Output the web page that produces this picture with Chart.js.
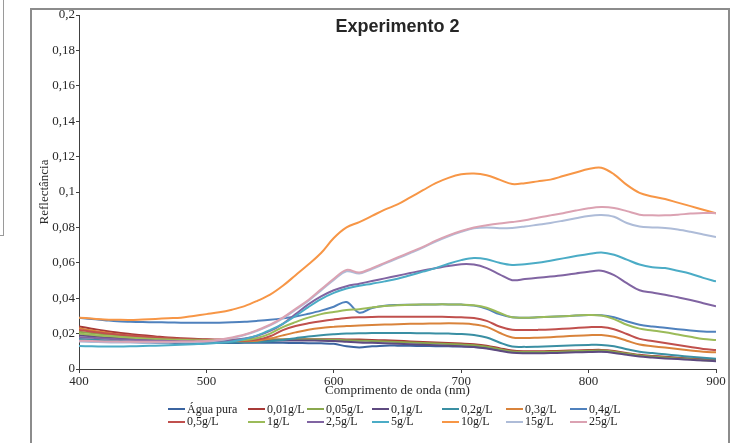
<!DOCTYPE html>
<html>
<head>
<meta charset="utf-8">
<script src="https://cdn.jsdelivr.net/npm/chart.js@4/dist/chart.umd.min.js"></script>
<style>
  html, body { margin: 0; padding: 0; background: #fff; }
  #wrap { position: relative; width: 731px; height: 443px; overflow: hidden; }
  #sidebox { position: absolute; left: -10px; top: -10px; width: 12px; height: 244px; border: 1.5px solid #9a9a9a; }
  #frame { position: absolute; left: 30px; top: 8px; width: 696px; height: 460px; border: 2px solid #8c8c8c; }
  canvas { position: absolute; left: 0; top: 0; }
  #legend { position: absolute; left: 168px; top: 403px; display: grid;
            grid-template-columns: 80px 59px 65px 70px 64px 64px 60px; grid-auto-rows: 12.5px;
            font-family: 'Liberation Serif', serif; font-size: 12px; color: #222; }
  .item { display: flex; align-items: center; white-space: nowrap; }
  .swatch { width: 17px; height: 2px; margin-right: 2px; flex: none; }
</style>
</head>
<body>
<div id="wrap">
  <div id="sidebox"></div>
  <div id="frame"></div>
  <canvas id="chart" width="731" height="443"></canvas>
  <div id="legend"></div>
</div>
<script>
// Wavelength (nm), sampled every 10 nm
const wavelengths = [400,410,420,430,440,450,460,470,480,490,500,510,520,530,540,550,560,570,580,590,
  600,610,620,630,640,650,660,670,680,690,700,710,720,730,740,750,760,770,780,790,
  800,810,820,830,840,850,860,870,880,890,900];

const seriesLabels = ['Água pura','0,01g/L','0,05g/L','0,1g/L','0,2g/L','0,3g/L','0,4g/L',
  '0,5g/L','1g/L','2,5g/L','5g/L','10g/L','15g/L','25g/L'];

// Reflectance per concentration
const aguaPura = [.0160,.0158,.0156,.0154,.0152,.0150,.0149,.0148,.0147,.0147,
  .0147,.0147,.0147,.0148,.0148,.0148,.0148,.0147,.0146,.0145,
  .0142,.0128,.0122,.0128,.0132,.0132,.0131,.0130,.0129,.0128,
  .0127,.0124,.0118,.0108,.0098,.0096,.0096,.0097,.0098,.0099,
  .0100,.0100,.0095,.0085,.0075,.0070,.0066,.0062,.0057,.0052,.0048];
const c001 = [.0240,.0228,.0216,.0206,.0198,.0190,.0184,.0178,.0174,.0171,
  .0168,.0167,.0166,.0166,.0166,.0166,.0167,.0168,.0168,.0168,
  .0168,.0167,.0166,.0164,.0162,.0159,.0156,.0153,.0150,.0147,
  .0144,.0140,.0132,.0118,.0104,.0100,.0100,.0101,.0103,.0105,
  .0107,.0108,.0102,.0090,.0080,.0074,.0069,.0064,.0059,.0055,.0052];
const c005 = [.0210,.0203,.0196,.0190,.0184,.0179,.0175,.0171,.0168,.0166,
  .0164,.0163,.0163,.0163,.0164,.0165,.0166,.0167,.0167,.0166,
  .0165,.0162,.0160,.0158,.0156,.0153,.0150,.0147,.0144,.0141,
  .0138,.0134,.0126,.0112,.0099,.0096,.0096,.0097,.0099,.0101,
  .0103,.0104,.0098,.0087,.0076,.0070,.0065,.0060,.0055,.0050,.0046];
const c01 = [.0190,.0185,.0180,.0175,.0171,.0167,.0164,.0161,.0159,.0157,
  .0156,.0156,.0157,.0158,.0159,.0160,.0161,.0161,.0161,.0160,
  .0158,.0154,.0150,.0148,.0146,.0143,.0140,.0137,.0134,.0131,
  .0128,.0124,.0116,.0103,.0092,.0089,.0089,.0090,.0092,.0094,
  .0096,.0097,.0091,.0080,.0070,.0065,.0060,.0056,.0052,.0048,.0044];
const c02 = [.0170,.0166,.0162,.0159,.0156,.0154,.0152,.0151,.0150,.0150,
  .0150,.0150,.0150,.0151,.0152,.0157,.0164,.0174,.0184,.0191,
  .0196,.0200,.0202,.0203,.0203,.0203,.0203,.0202,.0201,.0200,
  .0198,.0192,.0178,.0150,.0127,.0125,.0126,.0128,.0131,.0134,
  .0136,.0136,.0128,.0112,.0097,.0090,.0083,.0076,.0069,.0063,.0058];
const c03 = [.0230,.0218,.0207,.0197,.0189,.0182,.0176,.0171,.0167,.0164,
  .0162,.0160,.0158,.0157,.0160,.0172,.0190,.0207,.0222,.0232,
  .0238,.0243,.0246,.0249,.0251,.0253,.0255,.0256,.0257,.0258,
  .0257,.0252,.0238,.0205,.0178,.0175,.0177,.0180,.0184,.0188,
  .0191,.0192,.0182,.0160,.0138,.0129,.0121,.0113,.0105,.0098,.0094];
const c04 = [.0290,.0282,.0276,.0270,.0267,.0265,.0264,.0263,.0262,.0261,
  .0261,.0262,.0264,.0267,.0272,.0278,.0286,.0296,.0312,.0330,
  .0352,.0378,.0318,.0345,.0358,.0362,.0363,.0364,.0365,.0365,
  .0364,.0358,.0340,.0310,.0292,.0290,.0292,.0295,.0298,.0302,
  .0305,.0304,.0292,.0270,.0250,.0240,.0233,.0225,.0218,.0212,.0210];
const c05 = [.0220,.0211,.0202,.0195,.0189,.0183,.0178,.0174,.0170,.0167,
  .0165,.0163,.0161,.0160,.0166,.0185,.0220,.0243,.0258,.0270,
  .0280,.0288,.0292,.0294,.0295,.0295,.0295,.0295,.0295,.0294,
  .0292,.0288,.0272,.0240,.0222,.0220,.0221,.0223,.0227,.0232,
  .0236,.0237,.0225,.0198,.0170,.0158,.0147,.0136,.0124,.0113,.0107];
const c1 = [.0200,.0193,.0187,.0182,.0177,.0173,.0170,.0167,.0165,.0163,
  .0162,.0162,.0162,.0164,.0175,.0200,.0237,.0265,.0290,.0310,
  .0322,.0333,.0338,.0348,.0356,.0360,.0363,.0364,.0365,.0365,
  .0364,.0360,.0346,.0318,.0292,.0290,.0292,.0295,.0298,.0302,
  .0305,.0302,.0282,.0250,.0228,.0218,.0208,.0195,.0182,.0170,.0164];
const c25 = [.0180,.0176,.0172,.0168,.0165,.0162,.0160,.0158,.0157,.0156,
  .0156,.0158,.0163,.0172,.0188,.0215,.0255,.0310,.0365,.0410,
  .0445,.0468,.0482,.0497,.0512,.0527,.0542,.0557,.0570,.0582,
  .0592,.0590,.0570,.0535,.0502,.0508,.0515,.0522,.0530,.0540,
  .0550,.0555,.0530,.0485,.0445,.0432,.0420,.0405,.0390,.0372,.0355];
const c5 = [.0130,.0128,.0127,.0127,.0128,.0130,.0132,.0134,.0137,.0140,
  .0143,.0148,.0156,.0170,.0190,.0220,.0255,.0300,.0350,.0395,
  .0430,.0455,.0470,.0482,.0495,.0510,.0530,.0550,.0570,.0595,
  .0615,.0627,.0620,.0600,.0588,.0592,.0600,.0612,.0625,.0638,
  .0650,.0658,.0645,.0618,.0590,.0575,.0570,.0555,.0538,.0515,.0495];
const c10 = [.0290,.0285,.0280,.0278,.0277,.0280,.0283,.0287,.0290,.0300,
  .0310,.0320,.0335,.0355,.0385,.0420,.0470,.0530,.0590,.0655,
  .0740,.0800,.0830,.0865,.0900,.0930,.0970,.1010,.1050,.1080,
  .1100,.1105,.1095,.1070,.1045,.1050,.1060,.1070,.1090,.1110,
  .1130,.1137,.1100,.1040,.0995,.0975,.0960,.0940,.0920,.0900,.0880];
const c15 = [.0155,.0153,.0151,.0150,.0150,.0150,.0150,.0150,.0151,.0152,
  .0155,.0162,.0175,.0192,.0216,.0246,.0286,.0335,.0385,.0444,
  .0503,.0552,.0540,.0565,.0595,.0625,.0655,.0686,.0720,.0750,
  .0775,.0795,.0800,.0795,.0797,.0805,.0815,.0825,.0838,.0852,
  .0865,.0870,.0860,.0825,.0805,.0800,.0797,.0788,.0775,.0760,.0745];
const c25g = [.0160,.0158,.0156,.0155,.0154,.0154,.0154,.0154,.0155,.0156,
  .0158,.0165,.0178,.0195,.0220,.0250,.0290,.0340,.0390,.0450,
  .0510,.0560,.0545,.0570,.0600,.0630,.0660,.0690,.0725,.0755,
  .0780,.0800,.0812,.0822,.0830,.0840,.0855,.0868,.0880,.0895,
  .0908,.0915,.0910,.0892,.0872,.0868,.0868,.0872,.0878,.0882,.0880];

const seriesValues = [aguaPura, c001, c005, c01, c02, c03, c04, c05, c1, c25, c5, c10, c15, c25g];
const seriesColors = ['#3b64a0','#a83a37','#8aa84e','#5e4a80','#3a8fa3','#d9833b','#4f81bd',
  '#c0504d','#9bbb59','#8064a2','#4bacc6','#f79646','#aebcd8','#dba2b2'];

const yTicks = { min: 0, max: 0.2, step: 0.02 };
const xTicks = { min: 400, max: 900, step: 100 };

const datasets = seriesLabels.map((label, i) => ({
  label,
  data: wavelengths.map((w, k) => ({ x: w, y: seriesValues[i][k] })),
  borderColor: seriesColors[i],
  backgroundColor: seriesColors[i],
  borderWidth: 2,
  pointRadius: 0,
  tension: 0.35,
  fill: false,
  order: seriesLabels.length - i
}));

const serif = "'Liberation Serif', 'Times New Roman', serif";

// Chart heading drawn inside the plot area
const headingPlugin = {
  id: 'heading',
  afterDraw(chart) {
    const { ctx, chartArea } = chart;
    ctx.save();
    ctx.font = "bold 18px 'Liberation Sans', Arial, sans-serif";
    ctx.fillStyle = '#262626';
    ctx.textAlign = 'center';
    ctx.textBaseline = 'middle';
    ctx.fillText('Experimento 2', (chartArea.left + chartArea.right) / 2, chartArea.top + 12);
    ctx.restore();
  }
};

new Chart(document.getElementById('chart'), {
  type: 'line',
  data: { datasets },
  plugins: [headingPlugin],
  options: {
    responsive: false,
    animation: false,
    devicePixelRatio: 1,
    layout: { padding: { left: 37, top: 15, right: 15, bottom: 45 } },
    plugins: { legend: { display: false }, tooltip: { enabled: false }, title: { display: false } },
    scales: {
      x: {
        type: 'linear',
        min: xTicks.min, max: xTicks.max,
        afterFit(scale) { scale.height = 29; },
        ticks: { stepSize: xTicks.step, color: '#2a2a2a', padding: 1, maxRotation: 0,
                 font: { family: serif, size: 13 } },
        grid: { display: true, drawOnChartArea: false, drawTicks: true, tickLength: 4, color: '#404040' },
        border: { display: true, color: '#404040', width: 1 },
        title: { display: true, text: 'Comprimento de onda (nm)', color: '#2a2a2a',
                 padding: 0, font: { family: serif, size: 13 } }
      },
      y: {
        type: 'linear',
        min: yTicks.min, max: yTicks.max,
        afterFit(scale) { scale.width = 42; },
        ticks: { stepSize: yTicks.step, color: '#2a2a2a', padding: 1,
                 font: { family: serif, size: 13 },
                 callback: v => v === 0 ? '0' : String(+v.toFixed(2)).replace('.', ',') },
        grid: { display: true, drawOnChartArea: false, drawTicks: true, tickLength: 3, color: '#404040' },
        border: { display: true, color: '#404040', width: 1 },
        title: { display: true, text: 'Reflectância', color: '#2a2a2a',
                 padding: 0, font: { family: serif, size: 13 } }
      }
    }
  }
});

// Two-row legend laid out in columns
const legendEl = document.getElementById('legend');
seriesLabels.forEach((label, i) => {
  const item = document.createElement('div');
  item.className = 'item';
  const sw = document.createElement('span');
  sw.className = 'swatch';
  sw.style.background = seriesColors[i];
  const tx = document.createElement('span');
  tx.textContent = label;
  item.appendChild(sw);
  item.appendChild(tx);
  legendEl.appendChild(item);
});
</script>
</body>
</html>
